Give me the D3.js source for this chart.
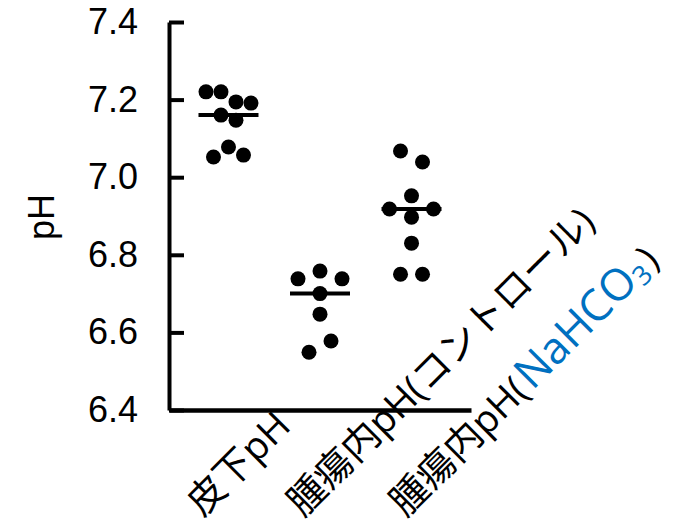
<body style="margin:0"></body>

<script src='https://d3js.org/d3.v7.min.js'></script>
<style>
    body { background: #fff; }
    .tick text { font-family: "Liberation Sans", Arial, sans-serif; }
</style>
<script>

    // values
    let categories = ["皮下pH", "腫瘍内pH(コントロール)", "腫瘍内pH(NaHCO3)"];
    let subcutaneous = [7.22, 7.22, 7.194, 7.191, 7.16, 7.147, 7.052, 7.078, 7.057];
    let tumorControl = [6.738, 6.758, 6.738, 6.70, 6.647, 6.549, 6.578];
    let tumorNaHCO3 = [7.0675, 7.039, 6.952, 6.918, 6.897, 6.918, 6.83, 6.75, 6.75];
    let yTicks = [6.4, 6.6, 6.8, 7.0, 7.2, 7.4];

    let groups = [subcutaneous, tumorControl, tumorNaHCO3];

    var width = 674, height = 519;
    var plotLeft = 169, plotRight = 471, plotTop = 22, plotBottom = 410;
    var dotR = 7.5;

    var svg = d3.select("body")
        .append("svg")
        .attr("width", width)
        .attr("height", height);

    var x = d3.scalePoint()
        .domain(categories)
        .range([plotLeft, plotRight])
        .padding(0.65);

    var y = d3.scaleLinear()
        .domain([6.4, 7.4])
        .range([plotBottom, plotTop]);

    // y axis, ticks pointing inwards
    var yAxis = svg.append("g")
        .attr("transform", "translate(" + plotLeft + ",0)")
        .call(d3.axisLeft(y)
            .tickValues(yTicks)
            .tickFormat(d3.format(".1f"))
            .tickSize(-15)
            .tickSizeOuter(0)
            .tickPadding(31));
    yAxis.selectAll("line, path").attr("stroke", "#000").attr("stroke-width", 4);
    yAxis.selectAll("text").attr("font-size", 36).attr("fill", "#000");

    // x axis line only
    var xAxis = svg.append("g")
        .attr("transform", "translate(0," + plotBottom + ")")
        .call(d3.axisBottom(x).tickSize(0).tickSizeOuter(0).tickFormat(""));
    xAxis.select("path").attr("stroke", "#000").attr("stroke-width", 4.5);

    svg.append("text")
        .attr("transform", "translate(54,217) rotate(-90)")
        .attr("text-anchor", "middle")
        .attr("font-family", "Liberation Sans, Arial, sans-serif")
        .attr("font-size", 36)
        .text("pH");

    // Prism-like scatter: values close together share a row and spread sideways
    function rowOffsets(vals) {
        var order = d3.range(vals.length).sort(function (a, b) { return vals[b] - vals[a]; });
        var rows = [], cur = null;
        order.forEach(function (i) {
            if (!cur || cur.first - vals[i] > 0.031) {
                cur = { first: vals[i], members: [] };
                rows.push(cur);
            }
            cur.members.push(i);
        });
        var maxN = d3.max(rows, function (r) { return r.members.length; });
        var gap = maxN > 1 ? Math.min(22, 45 / (maxN - 1)) : 0;
        var off = [];
        rows.forEach(function (r) {
            r.members.sort(function (a, b) { return a - b; });
            var n = r.members.length;
            r.members.forEach(function (i, k) { off[i] = (k - (n - 1) / 2) * gap; });
        });
        return off;
    }

    groups.forEach(function (vals, gi) {
        var cx = x(categories[gi]);
        var off = rowOffsets(vals);
        var med = d3.median(vals);

        svg.append("line")
            .attr("x1", cx - 30)
            .attr("x2", cx + 30)
            .attr("y1", y(med))
            .attr("y2", y(med))
            .attr("stroke", "#000")
            .attr("stroke-width", 4);

        svg.selectAll(".dot" + gi)
            .data(vals)
            .enter()
            .append("circle")
            .attr("cx", function (d, i) { return cx + off[i]; })
            .attr("cy", function (d) { return y(d); })
            .attr("r", dotR)
            .attr("fill", "#000");
    });

    // rotated category labels
    var labelNudge = [-26, -17, -6];
    categories.forEach(function (c, i) {
        var t = svg.append("text")
            .attr("transform", "translate(" + (x(c) + labelNudge[i]) + ",518) rotate(-45)")
            .attr("font-family", "Open Sans, Noto Sans CJK JP, sans-serif")
            .attr("font-size", 38)
            .attr("fill", "#000");
        var m = c.match(/^(.*\()NaHCO3(\))$/);
        if (m) {
            t.append("tspan").text(m[1]);
            t.append("tspan").attr("fill", "#0070c0").attr("font-size", 44).attr("dx", 3).text("NaHCO");
            t.append("tspan").attr("fill", "#0070c0").attr("font-size", 27).attr("dy", 5).text("3");
            t.append("tspan").attr("dy", -5).attr("dx", 3).text(m[2]);
        } else {
            t.text(c);
        }
    });

</script>
